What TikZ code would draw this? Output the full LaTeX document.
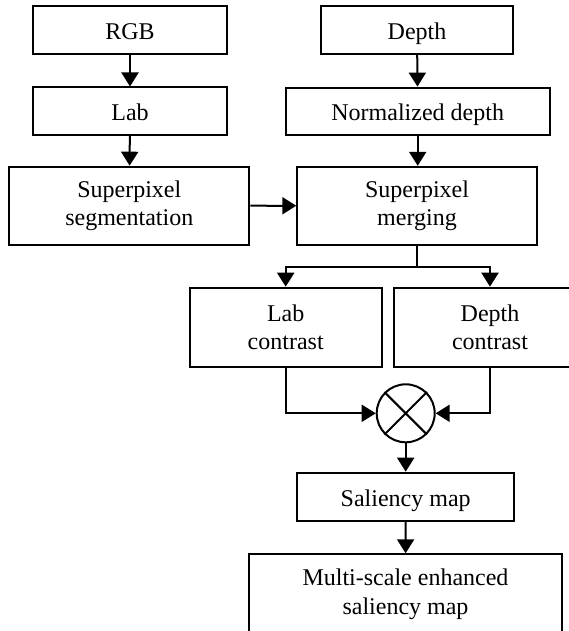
\documentclass[tikz,border=0pt]{standalone}
\usepackage{fontspec}
\setmainfont{Liberation Serif}
\usetikzlibrary{arrows.meta}

\begin{document}
\begin{tikzpicture}[x=0.5pt, y=-0.5pt,
  box/.style={draw=black, line width=1pt, align=center, inner sep=0pt,
    font=\fontsize{12}{14.2}\selectfont},
  oneline/.style={box, text height=11.5pt, text depth=2.2pt, minimum height=24pt},
  flow/.style={draw=black, line width=1pt, -{Triangle[length=7pt, width=8.5pt]}}]
\useasboundingbox (0,0) rectangle (568,631);
\node[oneline, minimum width=96.7pt] (rgb) at (130,30) {RGB};
\node[oneline, minimum width=97pt, minimum height=23.5pt] (lab) at (130,111) {Lab};
\node[box, minimum width=120pt, minimum height=39pt] (seg) at (129.3,205.7) {Superpixel\\segmentation};
\node[oneline, minimum width=96.3pt] (depth) at (417,30) {Depth};
\node[oneline, minimum width=132pt, minimum height=23.7pt] (norm) at (417.7,111.3) {Normalized depth};
\node[box, minimum width=119.7pt, minimum height=39pt] (merge) at (417,205.8) {Superpixel\\merging};
\node[box, minimum width=96pt, minimum height=39.5pt] (labc) at (285.7,327.2) {Lab\\contrast};
\node[box, minimum width=96pt, minimum height=39.5pt] (depthc) at (490,327.2) {Depth\\contrast};
\node[draw=black, line width=1pt, circle, minimum size=29pt, inner sep=0pt] (mult) at (405.7,413.3) {};
\draw[line width=1pt] (mult.north west) -- (mult.south east) (mult.north east) -- (mult.south west);
\node[oneline, minimum width=108.3pt] (sal) at (405.7,496.7) {Saliency map};
\node[box, minimum width=156.2pt, minimum height=40pt] (ms) at (405.5,594.3) {Multi-scale enhanced\\saliency map};
\coordinate (split) at (417,266.7);
\draw[flow] (rgb) -- (lab);
\draw[flow] (lab) -- (seg);
\draw[flow] (depth) -- (norm);
\draw[flow] (norm.south) -- (merge.north -| norm.south);
\draw[flow] (seg) -- (merge);
\draw[line width=1pt] (merge.south) -- (split);
\draw[flow] (split) -| (labc.north);
\draw[flow] (split) -| (depthc.north);
\draw[flow] (labc.south) |- (mult.west);
\draw[flow] (depthc.south) |- (mult.east);
\draw[flow] (mult) -- (sal);
\draw[flow] (sal) -- (ms);
\end{tikzpicture}
\end{document}
